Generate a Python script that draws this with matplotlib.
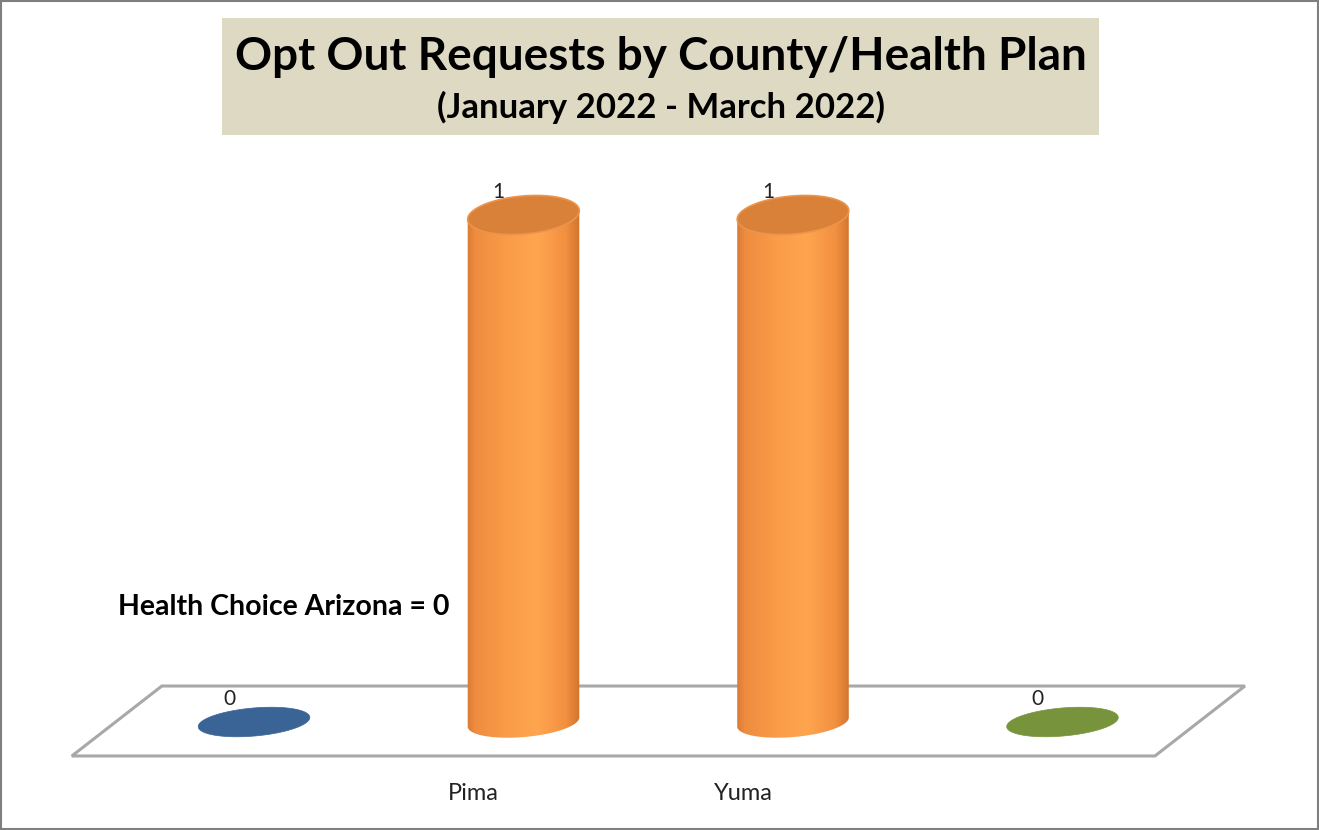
import numpy as np
import matplotlib
matplotlib.use('Agg')
import matplotlib.pyplot as plt
from matplotlib.patches import Polygon, Rectangle
from matplotlib.colors import LinearSegmentedColormap
import matplotlib.transforms as mtransforms

# ---------------- data ----------------
categories = ["", "Pima", "Yuma", ""]
values = [0, 1, 1, 0]
colors = ["#3A6495", "#F79646", "#F79646", "#77933C"]
title = "Opt Out Requests by County/Health Plan"
subtitle = "(January 2022 - March 2022)"
note = "Health Choice Arizona = 0"

FONT = ["Lato", "DejaVu Sans"]
plt.rcParams['font.family'] = FONT

W, H = 1319, 830
fig = plt.figure(figsize=(W / 100, H / 100), dpi=100)
fig.patch.set_facecolor("white")
ax = fig.add_axes([0, 0, 1, 1])
XMIN, XMAX = -0.9425, 3.9518
YMIN, YMAX = -0.2130, 1.4241
ax.set_xlim(XMIN, XMAX)
ax.set_ylim(YMIN, YMAX)
ax.axis('off')

SX = W / (XMAX - XMIN)   # pixels per x unit
SY = H / (YMAX - YMIN)   # pixels per y unit


def ell(xc, yc, a, b, ang, t0=0.0, t1=2 * np.pi, n=120):
    t = np.linspace(t0, t1, n)
    c, s = np.cos(np.radians(ang)), np.sin(np.radians(ang))
    px = a * np.cos(t)
    py = b * np.sin(t)
    rx = px * c - py * s
    ry = px * s + py * c
    return np.column_stack([xc + rx / SX, yc + ry / SY])


# ---------------- floor ----------------
n = len(categories)
floor_back = [(-0.342, 0.071), (n - 1 + 0.677, 0.071)]
dx_front = -90 / SX
floor_pts = [floor_back[0], floor_back[1],
             (floor_back[1][0] + dx_front, -0.067),
             (floor_back[0][0] + dx_front, -0.067)]
ax.add_patch(Polygon(floor_pts, closed=True, facecolor="white",
                     edgecolor="#A8A8A8", lw=2.2, zorder=1))

# ---------------- cylinders ----------------
A, B, BT, ANG = 56, 15, 19, 5
cmap = LinearSegmentedColormap.from_list(
    "cyl", [(0, "#D07330"), (0.10, "#EE8C3F"), (0.35, "#FA9B48"),
            (0.62, "#FFA54F"), (0.86, "#F29040"), (1, "#C96D2A")])
grad = np.linspace(0, 1, 256).reshape(1, -1)

for i, (v, col) in enumerate(zip(values, colors)):
    if v > 0:
        bottom = ell(i, 0, A, B, ANG, np.pi, 2 * np.pi)
        top = ell(i, v, A, BT, ANG, 0, np.pi)
        body = np.vstack([bottom, top])
        poly = Polygon(body, closed=True, facecolor="none", edgecolor="none")
        ax.add_patch(poly)
        im = ax.imshow(grad, cmap=cmap, aspect='auto', zorder=2,
                       extent=[i - (A + 4) / SX, i + (A + 4) / SX,
                               -(B + 12) / SY, v + (BT + 12) / SY])
        im.set_clip_path(poly)
        ax.add_patch(Polygon(ell(i, v, A, BT, ANG), closed=True,
                             facecolor="#D98039", edgecolor="#EC944B",
                             lw=1.2, zorder=3))
    else:
        ax.add_patch(Polygon(ell(i, 0, A, B - 1, ANG), closed=True,
                             facecolor=col, edgecolor=col, lw=0.5, zorder=3))
    tr = mtransforms.offset_copy(ax.transData, fig=fig, x=-25, y=23, units='dots')
    ax.text(i, v, str(v), transform=tr, ha='center', va='center',
            fontsize=15, color="#222222", zorder=5)
    tr2 = mtransforms.offset_copy(ax.transData, fig=fig, x=-50, y=-71, units='dots')
    ax.text(i, 0, categories[i], transform=tr2, ha='center', va='center',
            fontsize=17, color="#222222", zorder=5)

ax.set_xlim(XMIN, XMAX)
ax.set_ylim(YMIN, YMAX)

# ---------------- title box ----------------
fig.patches.append(Rectangle((222 / W, 1 - 135 / H), (1099 - 222) / W, (135 - 18) / H,
                             transform=fig.transFigure, facecolor="#DDD9C3",
                             edgecolor="none", zorder=0))
fig.text(661 / W, 1 - 57 / H, title, ha='center', va='center',
         fontsize=33, fontweight='bold', color="black")
fig.text(661 / W, 1 - 107 / H, subtitle, ha='center', va='center',
         fontsize=25, fontweight='bold', color="black")
fig.text(118 / W, 1 - 607 / H, note, ha='left', va='center',
         fontsize=20.5, fontweight='bold', color="black")

fig.patches.append(Rectangle((1 / W, 1 / H), 1 - 2 / W, 1 - 2 / H,
                             transform=fig.transFigure, facecolor="none",
                             edgecolor="#7F7F7F", lw=1.5, zorder=10))

fig.savefig("out.png", dpi=100)
